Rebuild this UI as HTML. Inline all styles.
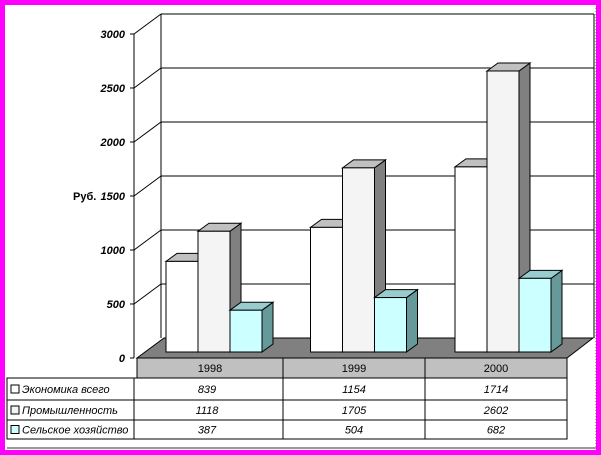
<!DOCTYPE html>
<html><head><meta charset="utf-8"><style>
html,body{margin:0;padding:0;background:#ff00ff;}
svg{display:block;font-family:"Liberation Sans",sans-serif;}
</style></head><body>
<svg width="601" height="455" viewBox="0 0 601 455" xmlns="http://www.w3.org/2000/svg">
<rect x="5" y="5" width="591" height="445" fill="#fff"/>
<line x1="596" y1="8" x2="596" y2="448" stroke="#555" stroke-dasharray="1,2"/>
<line x1="7" y1="448" x2="596" y2="448" stroke="#999" stroke-width="2"/>
<g id="axes"></g>
<g id="bars"></g>
<g id="table"></g>
</svg>
<script>
const categories=["1998","1999","2000"];
const seriesNames=["Экономика всего","Промышленность","Сельское хозяйство"];
const economy=[839,1154,1714];
const industry=[1118,1705,2602];
const agriculture=[387,504,682];
const yTicks=[0,500,1000,1500,2000,2500,3000];
const NS="http://www.w3.org/2000/svg";
function mk(tag,attrs,parent){const e=document.createElementNS(NS,tag);for(const k in attrs)e.setAttribute(k,attrs[k]);parent.appendChild(e);return e;}
const DX=27,DY=-20;
const x0=134,y0=358,ppu=108/1000;
function yF(v){return y0-v*ppu;}
const axes=document.getElementById('axes');
// back wall gridlines
const wallRight=594;
let wl=mk('line',{x1:x0+DX,y1:yF(3000)+DY,x2:x0+DX,y2:y0+DY,stroke:'#000'},axes);


yTicks.forEach(t=>{
  if(t>0){
    const g=mk('line',{x1:x0+DX,y1:yF(t)+DY,x2:wallRight,y2:yF(t)+DY,stroke:'#000'},axes);
    
    
    const d=mk('line',{x1:x0,y1:yF(t),x2:x0+DX,y2:yF(t)+DY,stroke:'#000'},axes);
    
    
  }
  const tk=mk('line',{x1:x0-4,y1:yF(t),x2:x0,y2:yF(t),stroke:'#000'},axes);
  
  
  const tx=mk('text',{x:x0-9,y:yF(t)+4,'text-anchor':'end','font-size':'11','font-weight':'bold','font-style':'italic'},axes);
  tx.textContent=t;
  
  
});
let rw=mk('line',{x1:wallRight,y1:yF(3000)+DY,x2:wallRight,y2:y0+DY,stroke:'#000'},axes);


let ya=mk('line',{x1:x0,y1:yF(3000),x2:x0,y2:y0,stroke:'#000'},axes);


let yt=mk('text',{x:73,y:yF(1500)+4,'font-size':'11','font-weight':'bold'},axes);
yt.textContent='Руб.';


// floor
let fl=mk('polygon',{points:`137,${y0} 567,${y0} ${567+DX-1},${y0+DY} ${137+DX},${y0+DY}`,fill:'#808080',stroke:'#000'},axes);


// bars
const bars=document.getElementById('bars');
const series=[economy,industry,agriculture];
const fronts=['#ffffff','#f4f4f4','#ccffff'];
const tops=['#c0c0c0','#c0c0c0','#99cccc'];
const sides=['#808080','#808080','#669999'];
const base=352,bw=32,bdx=11,bdy=-8,groupStart=166,groupStep=144.5;
series.forEach((s,si)=>{
  s.forEach((v,ci)=>{
    const x=groupStart+ci*groupStep+si*bw, yt=base-v*ppu;
    const g=mk('g',{},bars);
    
    
    mk('polygon',{points:`${x+bw},${yt} ${x+bw+bdx},${yt+bdy} ${x+bw+bdx},${base+bdy} ${x+bw},${base}`,fill:sides[si],stroke:'#000'},g);
    mk('polygon',{points:`${x},${yt} ${x+bdx},${yt+bdy} ${x+bw+bdx},${yt+bdy} ${x+bw},${yt}`,fill:tops[si],stroke:'#000'},g);
    mk('rect',{x:x,y:yt,width:bw,height:base-yt,fill:fronts[si],stroke:'#000'},g);
  });
});
// table
const tb=document.getElementById('table');
const colX=[137,283,425,567];
let hdr=mk('rect',{x:137,y:358,width:430,height:20,fill:'#c0c0c0',stroke:'#000'},tb);


categories.forEach((c,i)=>{
  const t=mk('text',{x:(colX[i]+colX[i+1])/2,y:372,'text-anchor':'middle','font-size':'11'},tb);
  t.textContent=c;
  
  
  if(i>0){mk('line',{x1:colX[i],y1:358,x2:colX[i],y2:378,stroke:'#000'},tb);}
});
const rowY=[378,400,420,439];
let frame=mk('rect',{x:7,y:378,width:560,height:61,fill:'#fff',stroke:'#000'},tb);


[134,283,425].forEach(x=>mk('line',{x1:x,y1:378,x2:x,y2:439,stroke:'#000'},tb));
[400,420].forEach(y=>mk('line',{x1:7,y1:y,x2:567,y2:y,stroke:'#000'},tb));
series.forEach((s,si)=>{
  const cy=(rowY[si]+rowY[si+1])/2;
  const key=mk('rect',{x:11,y:cy-4,width:8,height:8,fill:fronts[si],stroke:'#000'},tb);
  
  
  const lt=mk('text',{x:22,y:cy+4,'font-size':'11','font-style':'italic'},tb);
  lt.textContent=seriesNames[si];
  
  
  s.forEach((v,ci)=>{
    const t=mk('text',{x:(colX[ci]+colX[ci+1])/2+(ci==0?-3:0),y:cy+4,'text-anchor':'middle','font-size':'11','font-style':'italic'},tb);
    t.textContent=v;
    
    
  });
});
</script>
</body></html>
